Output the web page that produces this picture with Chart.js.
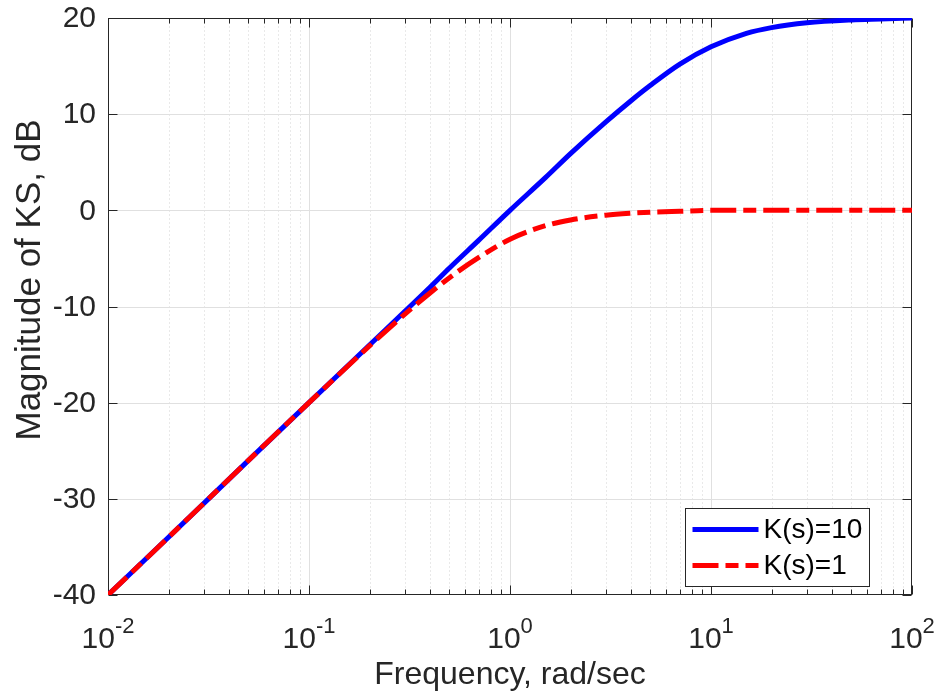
<!DOCTYPE html>
<html><head><meta charset="utf-8">
<script src="https://cdn.jsdelivr.net/npm/chart.js@4"></script>
<style>html,body{margin:0;padding:0;background:#fff}canvas{display:block}</style>
</head><body>
<canvas id="c" width="942" height="695"></canvas>
<script>
// ---- data ----
const frequencies = [0.01, 0.02, 0.05, 0.1, 0.2, 0.3, 0.4, 0.5, 0.7, 1, 1.5, 2, 3, 4, 5, 7, 10, 15, 20, 30, 50, 70, 100];
const magK10 = [-40.0, -34.0, -26.0, -20.0, -14.0, -10.5, -8.0, -6.0, -3.1, 0.0, 3.4, 5.9, 9.2, 11.4, 13.0, 15.2, 17.0, 18.4, 19.0, 19.5, 19.8, 19.9, 20.0];
const magK1 = [-40.0, -34.0, -26.0, -20.0, -14.1, -10.8, -8.6, -7.0, -4.9, -3.0, -1.6, -1.0, -0.5, -0.3, -0.2, -0.1, 0.0, 0.0, 0.0, 0.0, 0.0, 0.0, 0.0];
const seriesLabels = ['K(s)=10', 'K(s)=1'];
const xTickExponents = [-2, -1, 0, 1, 2];
const yTickValues = [-40, -30, -20, -10, 0, 10, 20];
const xAxisTitle = 'Frequency, rad/sec';
const yAxisTitle = 'Magnitude of KS, dB';

const FONT = '"Liberation Sans", Arial, Helvetica, sans-serif';
const AX = '#262626';
const RED_DASH = [26, 7, 13, 7];

const matlabAxes = {
  id: 'matlabAxes',
  beforeDatasetsDraw(chart) {
    const { ctx, chartArea: a, scales: { x, y } } = chart;
    const L = Math.round(a.left) + 0.5, R = Math.round(a.right) - 0.5;
    const T = Math.round(a.top) + 0.5, B = Math.round(a.bottom) - 0.5;
    ctx.save();
    ctx.lineWidth = 1;
    // minor dotted grid
    ctx.strokeStyle = '#d2d2d2';
    ctx.setLineDash([1, 3]);
    for (let i = 0; i < xTickExponents.length - 1; i++) {
      for (let m = 2; m <= 9; m++) {
        const px = Math.round(x.getPixelForValue(m * Math.pow(10, xTickExponents[i]))) + 0.5;
        ctx.beginPath(); ctx.moveTo(px, T); ctx.lineTo(px, B); ctx.stroke();
      }
    }
    // major grid
    ctx.setLineDash([]);
    ctx.strokeStyle = '#e0e0e0';
    xTickExponents.slice(1, -1).forEach(e => {
      const px = Math.round(x.getPixelForValue(Math.pow(10, e))) + 0.5;
      ctx.beginPath(); ctx.moveTo(px, T); ctx.lineTo(px, B); ctx.stroke();
    });
    yTickValues.slice(1, -1).forEach(v => {
      const py = Math.round(y.getPixelForValue(v)) + 0.5;
      ctx.beginPath(); ctx.moveTo(L, py); ctx.lineTo(R, py); ctx.stroke();
    });
    // box
    ctx.strokeStyle = AX;
    ctx.strokeRect(L, T, R - L, B - T);
    // ticks (inward, both sides)
    ctx.beginPath();
    for (let i = 0; i < xTickExponents.length; i++) {
      const px = Math.round(x.getPixelForValue(Math.pow(10, xTickExponents[i]))) + 0.5;
      ctx.moveTo(px, B); ctx.lineTo(px, B - 9);
      ctx.moveTo(px, T); ctx.lineTo(px, T + 9);
      if (i < xTickExponents.length - 1) {
        for (let m = 2; m <= 9; m++) {
          const qx = Math.round(x.getPixelForValue(m * Math.pow(10, xTickExponents[i]))) + 0.5;
          ctx.moveTo(qx, B); ctx.lineTo(qx, B - 5);
          ctx.moveTo(qx, T); ctx.lineTo(qx, T + 5);
        }
      }
    }
    yTickValues.forEach(v => {
      const py = Math.round(y.getPixelForValue(v)) + 0.5;
      ctx.moveTo(L, py); ctx.lineTo(L + 9, py);
      ctx.moveTo(R, py); ctx.lineTo(R - 9, py);
    });
    ctx.stroke();
    ctx.restore();
  },
  afterDatasetsDraw(chart) {
    const { ctx, chartArea: a, scales: { x, y } } = chart;
    ctx.save();
    ctx.fillStyle = AX;
    // y tick labels
    ctx.font = '30px ' + FONT;
    ctx.textAlign = 'right';
    ctx.textBaseline = 'middle';
    yTickValues.forEach(v => {
      ctx.fillText(String(v), a.left - 12, y.getPixelForValue(v) + 1);
    });
    // x tick labels 10^n
    ctx.textBaseline = 'alphabetic';
    const baseY = a.bottom + 53, supY = a.bottom + 38;
    xTickExponents.forEach(e => {
      const px = x.getPixelForValue(Math.pow(10, e));
      ctx.font = '30px ' + FONT;
      const wb = ctx.measureText('10').width;
      ctx.font = '22px ' + FONT;
      const sup = String(e);
      const ws = ctx.measureText(sup).width;
      const start = px - (wb + ws) / 2;
      ctx.font = '30px ' + FONT;
      ctx.textAlign = 'left';
      ctx.fillText('10', start, baseY);
      ctx.font = '22px ' + FONT;
      ctx.fillText(sup, start + wb, supY);
    });
    // axis titles
    ctx.font = '32px ' + FONT;
    ctx.textAlign = 'center';
    ctx.textBaseline = 'alphabetic';
    ctx.fillText(xAxisTitle, (a.left + a.right) / 2, a.bottom + 89);
    ctx.save();
    ctx.font = '35px ' + FONT;
    ctx.translate(40, 280);
    ctx.rotate(-Math.PI / 2);
    ctx.fillText(yAxisTitle, 0, 0);
    ctx.restore();
    // legend
    const bw = 184, bh = 78;
    const bx = Math.round(a.right - 43 - bw) + 0.5, by = Math.round(a.bottom - 9 - bh) + 0.5;
    ctx.fillStyle = '#ffffff';
    ctx.fillRect(bx, by, bw, bh);
    ctx.strokeStyle = AX; ctx.lineWidth = 1;
    ctx.strokeRect(bx, by, bw, bh);
    const ds = chart.data.datasets;
    const rows = [ds.find(d => d.label === seriesLabels[0]), ds.find(d => d.label === seriesLabels[1])];
    rows.forEach((d, i) => {
      const ly = by + 21 + i * 36;
      ctx.save();
      ctx.strokeStyle = d.borderColor; ctx.lineWidth = 5; ctx.lineCap = 'butt';
      ctx.setLineDash(d.borderDash || []);
      ctx.beginPath(); ctx.moveTo(bx + 7, ly); ctx.lineTo(bx + 73, ly); ctx.stroke();
      ctx.restore();
      ctx.fillStyle = '#000000';
      ctx.font = '28px ' + FONT;
      ctx.textAlign = 'left'; ctx.textBaseline = 'middle';
      ctx.fillText(d.label, bx + 78, ly + 1);
    });
    ctx.restore();
  }
};

new Chart(document.getElementById('c'), {
  type: 'line',
  data: {
    labels: frequencies,
    datasets: [
      { label: seriesLabels[0], data: frequencies.map((f, i) => ({ x: f, y: magK10[i] })),
        borderColor: '#0000ff', borderWidth: 5, pointRadius: 0, fill: false,
        cubicInterpolationMode: 'monotone', order: 2 },
      { label: seriesLabels[1], data: frequencies.map((f, i) => ({ x: f, y: magK1[i] })),
        borderColor: '#ff0000', borderWidth: 5, pointRadius: 0, fill: false,
        borderDash: RED_DASH, cubicInterpolationMode: 'monotone', order: 1 }
    ]
  },
  options: {
    responsive: false,
    animation: false,
    devicePixelRatio: 1,
    layout: { padding: { top: 18, right: 30, left: 0, bottom: 0 } },
    plugins: { legend: { display: false }, tooltip: { enabled: false } },
    scales: {
      x: {
        type: 'logarithmic', min: 0.01, max: 100,
        grid: { display: false, drawTicks: false }, border: { display: false },
        ticks: { display: false },
        afterFit(s) { s.height = 100; }
      },
      y: {
        type: 'linear', min: -40, max: 20,
        grid: { display: false, drawTicks: false }, border: { display: false },
        ticks: { display: false, stepSize: 10 },
        afterFit(s) { s.width = 108; }
      }
    }
  },
  plugins: [matlabAxes]
});
</script>
</body></html>
